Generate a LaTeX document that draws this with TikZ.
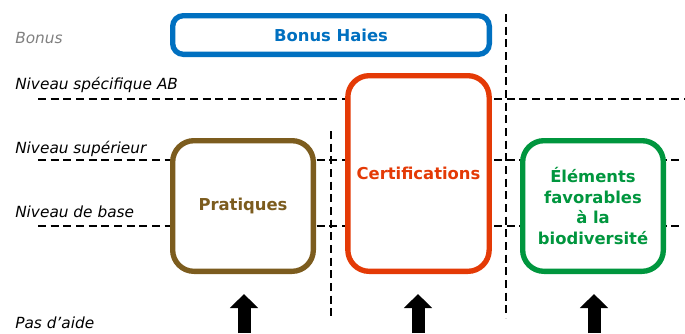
\documentclass[tikz,border=0pt]{standalone}
\usepackage{fontspec}
\setmainfont{DejaVu Sans}
\usetikzlibrary{arrows.meta}

\definecolor{haieblue}{RGB}{0,112,192}
\definecolor{certred}{RGB}{228,58,6}
\definecolor{pratbrown}{RGB}{124,92,30}
\definecolor{biogreen}{RGB}{0,150,62}

\tikzset{
  niveau/.style={anchor=west, inner sep=0.75pt, font=\fontsize{11.5}{13}\selectfont\itshape},
  seuil/.style={dash pattern=on 6pt off 3.5pt, line width=1.5pt},
  boite/.style={draw, fill=white, line width=4pt, rounded corners=16pt, align=center,
    font=\fontsize{12.3}{15.5}\selectfont\bfseries, minimum width=105.5pt, minimum height=98pt},
  fleche/.style={line width=9.75pt, -{Triangle[width=20.5pt,length=10.5pt]}}
}

\begin{document}
\begin{tikzpicture}[x=0.75pt,y=0.75pt,yscale=-1,xscale=1]
    \useasboundingbox (0,0) rectangle (685,333);

    % niveaux d'aide
    \node[niveau, text=gray] (bonus) at (14,38) {Bonus};
    \node[niveau] (specifique) at (14,85) {Niveau spécifique AB};
    \node[niveau] (superieur) at (14,149) {Niveau supérieur};
    \node[niveau] (base) at (14,212) {Niveau de base};
    \node[niveau] (pasaide) at (14,323) {Pas d’aide};

    % lignes des seuils
    \coordinate (abG) at (38,99);   \coordinate (abD) at (685,99);
    \coordinate (supG) at (38,160); \coordinate (supD) at (682,160);
    \coordinate (baseG) at (38,226); \coordinate (baseD) at (682,226);
    \draw[seuil] (abG) -- (abD);
    \draw[seuil] (supG) -- (supD);
    \draw[seuil] (baseG) -- (baseD);

    % separations verticales
    \coordinate (sep1H) at (331,131); \coordinate (sep1B) at (331,317);
    \coordinate (sep2H) at (506,14);  \coordinate (sep2B) at (506,318);
    \draw[seuil] (sep1H) -- (sep1B);
    \draw[seuil] (sep2H) -- (sep2B);

    % les quatre boites
    \node[boite, draw=haieblue, text=haieblue, rounded corners=8pt,
      minimum width=237.5pt, minimum height=29pt] (haies) at (331,35) {Bonus Haies};
    \node[boite, draw=pratbrown, text=pratbrown] (pratiques) at (243,206) {Pratiques};
    \node[boite, draw=certred, text=certred, minimum width=106pt, minimum height=146.75pt]
      (certif) at (418.5,173.5) {Certifications};
    \node[boite, draw=biogreen, text=biogreen] (elements) at (593,206)
      {Éléments\\favorables\\à la\\biodiversité};

    % fleches du bas
    \coordinate (f1) at (244,333); \coordinate (f1h) at (244,294);
    \coordinate (f2) at (418,333); \coordinate (f2h) at (418,294);
    \coordinate (f3) at (594,333); \coordinate (f3h) at (594,294);
    \draw[fleche] (f1) -- (f1h);
    \draw[fleche] (f2) -- (f2h);
    \draw[fleche] (f3) -- (f3h);

\end{tikzpicture}
\end{document}
